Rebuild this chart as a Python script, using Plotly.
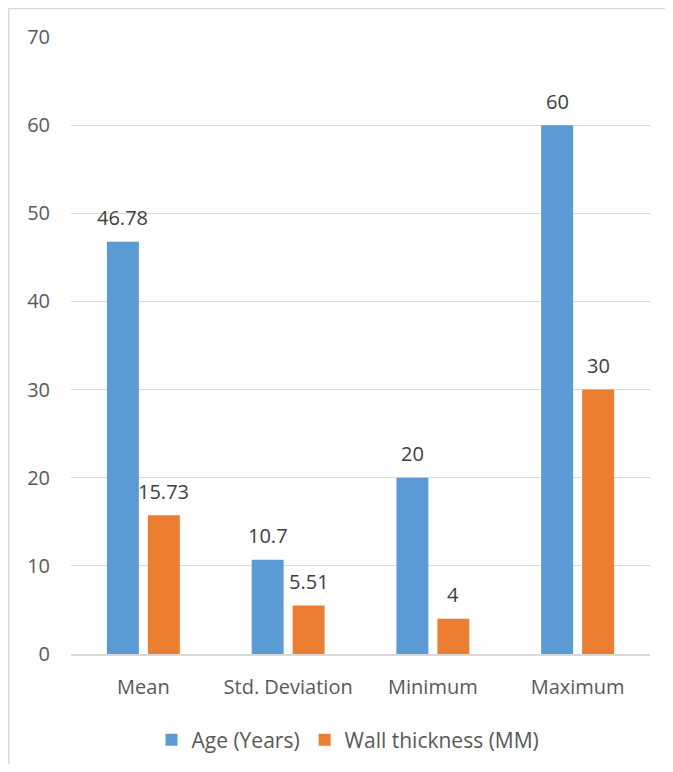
import plotly.graph_objects as go

categories = ["Mean", "Std. Deviation", "Minimum", "Maximum"]
age_years = [46.78, 10.7, 20, 60]
wall_thickness = [15.73, 5.51, 4, 30]
age_labels = ["46.78", "10.7", "20", "60"]
wall_labels = ["15.73", "5.51", "4", "30"]
y_ticks = [0, 10, 20, 30, 40, 50, 60, 70]

BLUE = "#5B9BD5"
ORANGE = "#ED7D31"
FONT = "Open Sans"

W, H = 657, 756
L, R, T, B = 63, 15, 29, 110
pw = W - L - R
ph = H - T - B

fig = go.Figure()
fig.add_trace(go.Bar(x=categories, y=age_years, name="Age (Years)",
                     marker=dict(color=BLUE, line=dict(width=0))))
fig.add_trace(go.Bar(x=categories, y=wall_thickness, name="Wall thickness (MM)",
                     marker=dict(color=ORANGE, line=dict(width=0))))

annotations = []
for cat, v, lab in zip(categories, age_years, age_labels):
    annotations.append(dict(x=cat, y=v, text=lab, showarrow=False, xref="x", yref="y",
                            xshift=-20.5, yshift=24, yanchor="middle",
                            font=dict(family=FONT, size=20, color="#404040")))
for cat, v, lab in zip(categories, wall_thickness, wall_labels):
    annotations.append(dict(x=cat, y=v, text=lab, showarrow=False, xref="x", yref="y",
                            xshift=20.5, yshift=24, yanchor="middle",
                            font=dict(family=FONT, size=20, color="#404040")))

def px_x(p):
    return (p - L) / pw

def px_y(p):
    return (H - B - p) / ph

fig.update_layout(
    width=W, height=H,
    margin=dict(l=L, r=R, t=T, b=B, pad=0, autoexpand=False),
    paper_bgcolor="white", plot_bgcolor="white",
    barmode="group", bargap=0.434, bargroupgap=0.22,
    font=dict(family=FONT, size=20, color="#595959"),
    showlegend=True,
    legend=dict(orientation="h", x=px_x(340), xanchor="center",
                y=px_y(732), yanchor="middle",
                font=dict(family=FONT, size=21, color="#595959"),
                itemsizing="constant"),
    annotations=annotations,
    shapes=[
        dict(type="line", xref="paper", yref="paper",
             x0=px_x(0.5), y0=px_y(0.5), x1=px_x(W), y1=px_y(0.5),
             line=dict(color="#D9D9D9", width=1.5), layer="below"),
        dict(type="line", xref="paper", yref="paper",
             x0=px_x(0.5), y0=px_y(0.5), x1=px_x(0.5), y1=px_y(H),
             line=dict(color="#D9D9D9", width=2), layer="below"),
    ],
)
fig.update_xaxes(showgrid=False, showline=True, linecolor="#D9D9D9", linewidth=1.5,
                 ticks="", ticklabelstandoff=14,
                 tickfont=dict(family=FONT, size=20, color="#595959"))
fig.update_yaxes(range=[0, 70], tickvals=y_ticks, showgrid=True, gridcolor="#D9D9D9",
                 gridwidth=1.2, zeroline=False, showline=False, ticks="",
                 ticklabelstandoff=20,
                 tickfont=dict(family=FONT, size=20, color="#595959"))

fig.write_html("out.html")
